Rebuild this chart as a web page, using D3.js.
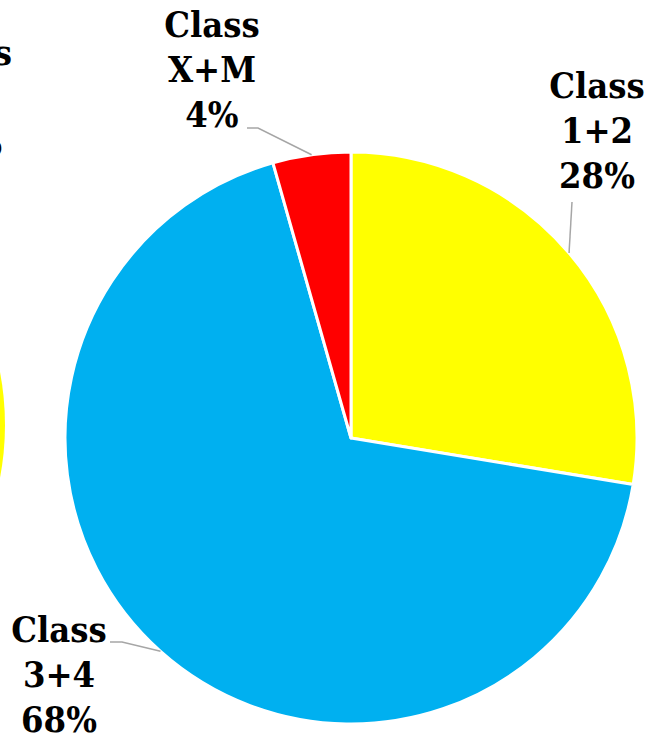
<!DOCTYPE html>
<html>
<head>
<meta charset="utf-8">
<script src="https://cdn.jsdelivr.net/npm/d3@7"></script>
<style>
  html, body { margin: 0; padding: 0; background: #fff; overflow: hidden; }
</style>
</head>
<body>
<svg id="chart" width="646" height="739"></svg>
<script>
  // slices, clockwise from 12 o'clock
  var classes = ['1+2', '3+4', 'X+M']
  var shares = [27.6, 68.0, 4.4]
  var colors = ['#FFFF00', '#00B0F0', '#FF0000']

  // neighbouring chart, cut off at the left edge
  var leftClasses = ['1+2']
  var leftShares = [28]

  var svg = d3.select('#chart')
  var cx = 351
  var cy = 438
  var radius = 286
  var fontSize = 36
  var lineH = 45
  var serif = "'DejaVu Serif'"

  var pie = d3.pie().sort(null).value(function (d) { return d })
  var arc = d3.arc().innerRadius(0).outerRadius(radius)
  var arcs = pie(shares)

  function addLabel(x, y, lines) {
    var t = svg.append('text')
      .attr('text-anchor', 'middle')
      .attr('font-family', serif)
      .attr('font-weight', 'bold')
      .attr('font-size', fontSize)
      .style('font-stretch', 'condensed')
      .attr('fill', '#000')
    lines.forEach(function (s, j) {
      t.append('tspan').attr('x', x).attr('y', y + j * lineH).text(s)
    })
    return t
  }

  /* cropped neighbour pie */
  var ghost = svg.append('g').attr('transform', 'translate(-279,425)')
  ghost.append('path')
    .attr('d', d3.arc().innerRadius(0).outerRadius(284)({ startAngle: 0, endAngle: Math.PI }))
    .attr('fill', '#FFFF00')
  var gl = addLabel(0, 65, ['Class', leftClasses[0], leftShares[0] + '%'])
  var w = gl.select('tspan').node().getComputedTextLength()
  gl.selectAll('tspan').attr('x', 12 - w / 2)

  /* main pie */
  var g = svg.append('g').attr('transform', 'translate(' + cx + ',' + cy + ')')

  g.selectAll('path.slice')
    .data(arcs)
    .enter()
    .append('path')
    .attr('class', 'slice')
    .attr('d', arc)
    .attr('fill', function (d, i) { return colors[i] })
    .attr('stroke', '#fff')
    .attr('stroke-width', 3)
    .attr('stroke-linejoin', 'round')

  // label anchor (centre x, first baseline) and leader start
  var labelPos = [
    { x: 597, y: 98, lead: [[572, 202]] },
    { x: 59, y: 642, lead: [[110, 642], [122, 642]] },
    { x: 212, y: 37, lead: [[247, 128], [258, 128]] }
  ]

  arcs.forEach(function (d, i) {
    var mid = (d.startAngle + d.endAngle) / 2
    var ex = cx + radius * Math.sin(mid)
    var ey = cy - radius * Math.cos(mid)
    var pts = labelPos[i].lead.concat([[ex, ey]])

    svg.append('path')
      .attr('d', d3.line()(pts))
      .attr('fill', 'none')
      .attr('stroke', '#A6A6A6')
      .attr('stroke-width', 1.5)

    addLabel(labelPos[i].x, labelPos[i].y, ['Class', classes[i], Math.round(shares[i]) + '%'])
  })
</script>
</body>
</html>
